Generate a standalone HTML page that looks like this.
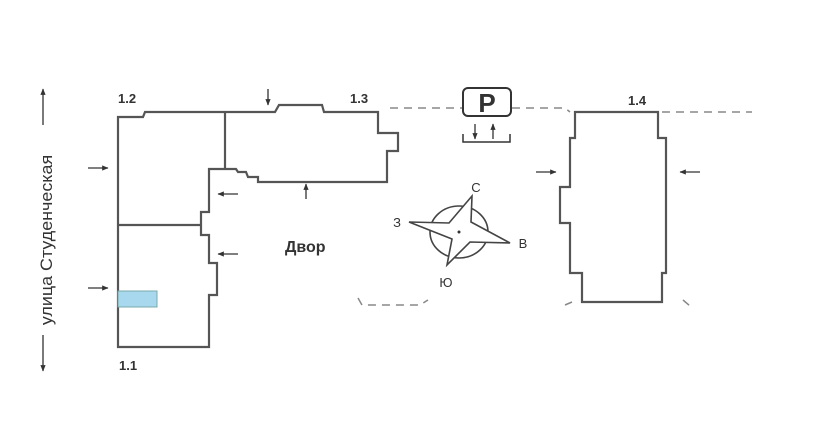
<!DOCTYPE html>
<html><head><meta charset="utf-8"><style>
html,body{margin:0;padding:0;background:#fff;}
svg{display:block;}
text{font-family:"Liberation Sans","DejaVu Sans",sans-serif;fill:#333;}
</style></head><body>
<svg width="814" height="426" viewBox="0 0 814 426" xmlns="http://www.w3.org/2000/svg">
<defs>
<marker id="ah" viewBox="0 0 10 10" refX="9" refY="5" markerWidth="5" markerHeight="5" orient="auto"><path d="M0,1 L10,5 L0,9 z" fill="#333"/></marker>
</defs>
<g fill="none" stroke="#555" stroke-width="2.2">
<path d="M118,347 L118,117 L143,117 L145,112 L275,112 L279,105 L322,105 L324,112 L378,112 L378,133 L398,133 L398,151 L387,151 L387,182 L258,182 L258,177 L248,177 L246,172 L238,172 L236,169 L209,169 L209,212 L201,212 L201,235 L209,235 L209,263 L217,263 L217,295 L209,295 L209,347 Z"/>
<path d="M225,112 L225,169"/>
<path d="M118,225 L201,225"/>
<path d="M575,112 L658,112 L658,138 L666,138 L666,273 L662,273 L662,302 L582,302 L582,273 L570,273 L570,223 L560,223 L560,187 L570,187 L570,138 L575,138 Z"/>
</g>
<rect x="118" y="291" width="39" height="16" fill="#a8d8ee" stroke="#7aa" stroke-width="1"/>
<g fill="none" stroke="#888" stroke-width="1.5" stroke-dasharray="8,6">
<path d="M390,108 L462,108"/>
<path d="M512,108 L565,108 L570,112"/>
<path d="M662,112 L752,112"/>
<path d="M358,298 L362,305 L420,305 L428,300"/>
<path d="M565,305 L572,302"/>
<path d="M683,300 L690,306"/>
</g>
<rect x="463" y="88" width="48" height="28" rx="5" fill="#fff" stroke="#333" stroke-width="2"/>
<text x="487" y="112" text-anchor="middle" font-size="26" font-weight="bold" fill="#222">P</text>
<path d="M463,134 L463,142 L510,142 L510,134" fill="none" stroke="#333" stroke-width="1.5"/>
<g stroke="#333" stroke-width="1.3" marker-end="url(#ah)">
<line x1="475" y1="124" x2="475" y2="139"/>
<line x1="493" y1="139" x2="493" y2="124"/>
</g>
<g stroke="#333" stroke-width="1.3" marker-end="url(#ah)">
<line x1="43" y1="125" x2="43" y2="89"/>
<line x1="43" y1="335" x2="43" y2="371"/>
<line x1="88" y1="168" x2="108" y2="168"/>
<line x1="88" y1="288" x2="108" y2="288"/>
<line x1="268" y1="89" x2="268" y2="105"/>
<line x1="306" y1="199" x2="306" y2="184"/>
<line x1="238" y1="194" x2="218" y2="194"/>
<line x1="238" y1="254" x2="218" y2="254"/>
<line x1="536" y1="172" x2="556" y2="172"/>
<line x1="700" y1="172" x2="680" y2="172"/>
</g>
<ellipse cx="459" cy="232" rx="29" ry="26" fill="none" stroke="#444" stroke-width="1.6"/>
<path d="M472,196 L471,222 L510,243 L470,242 L447,265 L452,239 L409,222 L449,223 Z" fill="#fff" stroke="#444" stroke-width="1.6"/>
<circle cx="459" cy="232" r="1.5" fill="#333"/>
<text x="476" y="192" font-size="13" text-anchor="middle">С</text>
<text x="523" y="248" font-size="13" text-anchor="middle">В</text>
<text x="446" y="287" font-size="13" text-anchor="middle">Ю</text>
<text x="397" y="227" font-size="13" text-anchor="middle">З</text>
<text x="118" y="103" font-size="13" font-weight="bold">1.2</text>
<text x="350" y="103" font-size="13" font-weight="bold">1.3</text>
<text x="628" y="105" font-size="13" font-weight="bold">1.4</text>
<text x="119" y="370" font-size="13" font-weight="bold">1.1</text>
<text x="285" y="252" font-size="16" font-weight="bold">Двор</text>
<text transform="translate(52,240) rotate(-90) scale(1.12,1.05)" font-size="16" text-anchor="middle">улица Студенческая</text>
</svg>
</body></html>
